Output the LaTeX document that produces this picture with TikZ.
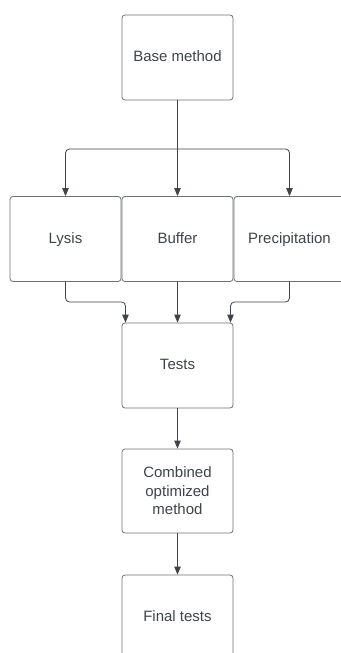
\documentclass[tikz,border=0pt]{standalone}
\usepackage{fontspec}
\setmainfont{Liberation Sans}
\usetikzlibrary{arrows.meta}

\definecolor{linegray}{HTML}{3F444B}
\definecolor{boxgray}{HTML}{6B7078}

\tikzset{
    stepbox/.style={draw=boxgray, line width=0.8pt, rounded corners=3pt, fill=white,
        minimum width=111pt, minimum height=85pt, align=center, text=linegray,
        font=\fontsize{15}{18.5}\selectfont},
    oneline/.style={stepbox, text height=11pt, text depth=3pt},
    flow/.style={draw=linegray, line width=0.8pt, rounded corners=4pt,
        -{Triangle[width=6.5pt,length=8pt]}}
}

\begin{document}
\begin{tikzpicture}[x=1pt, y=-1pt]
            \useasboundingbox (0,0) rectangle (340,653);

            \node[oneline] (base) at (177.5, 57.5) {Base method};
            \node[oneline] (lysis) at (65.5, 239) {Lysis};
            \node[oneline] (buffer) at (177.5, 239) {Buffer};
            \node[oneline] (precip) at (289.5, 239) {Precipitation};
            \node[oneline] (tests) at (177.5, 365.5) {Tests};
            \node[stepbox, minimum height=84pt] (combined) at (177.5, 491) {Combined\\optimized\\method};
            \node[oneline] (final) at (177.5, 617.5) {Final tests};

            \coordinate (split) at (177.5, 149);
            \coordinate (join) at (177.5, 302);

            \draw[draw=linegray, line width=0.8pt] (base.south) -- (split);
            \draw[flow] (split) -| (lysis.north);
            \draw[flow] (split) -- (buffer.north);
            \draw[flow] (split) -| (precip.north);

            \draw[flow] (lysis.south) |- ([xshift=-52pt]tests.north |- join) -- ([xshift=-52pt]tests.north);
            \draw[flow] (buffer.south) -- (tests.north);
            \draw[flow] (precip.south) |- ([xshift=53pt]tests.north |- join) -- ([xshift=53pt]tests.north);

            \draw[flow] (tests.south) -- (combined.north);
            \draw[flow] (combined.south) -- (final.north);
        \end{tikzpicture}
\end{document}
